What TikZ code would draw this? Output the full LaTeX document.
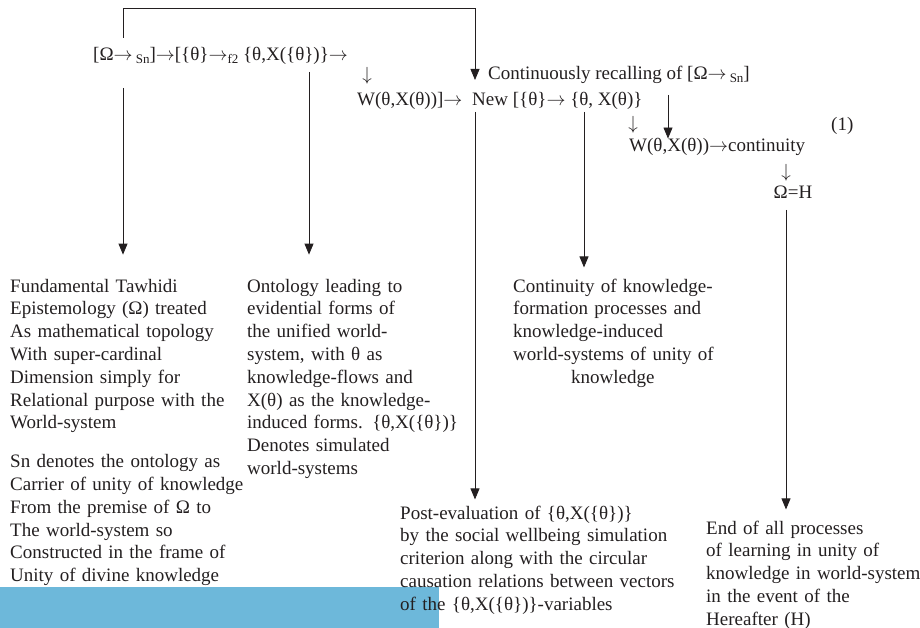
\RequirePackage{fix-cm}
\documentclass[tikz,border=0pt]{standalone}
\usepackage{fontspec}
\setmainfont{Liberation Serif}
\usetikzlibrary{arrows,arrows.meta,positioning}
\definecolor{ink}{RGB}{35,31,32}
\definecolor{band}{RGB}{109,184,218}
\newcommand{\lowsub}[1]{\raisebox{-3pt}{\fontsize{13}{13}\selectfont #1}}
\newcommand{\flowto}{\ensuremath{\rightarrow}}
\newcommand{\flowdown}{\ensuremath{\downarrow}}

\begin{document}
\begin{tikzpicture}[x=1pt,y=-1pt]
		\tikzstyle{formula}=[anchor=base west,inner sep=0pt,text=ink,font=\fontsize{19}{22.8}\selectfont]
		\tikzstyle{note}=[formula,align=left]
		\tikzstyle{downmark}=[inner sep=0pt,text=ink,font=\fontsize{19}{22.8}\selectfont]
		\tikzstyle{trigger}=[ink,line width=0.8pt,arrows={-Triangle[length=11pt,width=9pt]}]
		
		\useasboundingbox (0,0) rectangle (920,628);
		\fill[band] (0,587) rectangle (439,628);
		
		% formula chain
		\node[formula] (chain) at (93,61) {[Ω\flowto\,\lowsub{Sn}]\flowto[\{θ\}\flowto\lowsub{f2} \{θ,X(\{θ\})\}\flowto};
		\node[downmark] (down1) at (367,76) {\flowdown};
		\node[formula] (wlink) at (357,106) {W(θ,X(θ))]\flowto};
		\node[formula] (newrel) at (472,106) {New [\{θ\}\flowto\ \{θ, X(θ)\}};
		\node[formula] (recall) at (488,80) {Continuously recalling of [Ω\flowto\,\lowsub{Sn}]};
		\node[downmark] (down2) at (633,125) {\flowdown};
		\node[formula] (wcont) at (629,152) {W(θ,X(θ))\flowto continuity};
		\node[formula] (eqno) at (831,131) {(1)};
		\node[downmark] (down3) at (786,173) {\flowdown};
		\node[formula,anchor=base] (omegaH) at (793,199) {Ω=H};
		
		% explanations
		\node[note,text width=260pt] (tawhidi) at (10,292) {Fundamental Tawhidi\\ Epistemology (Ω) treated\\ As mathematical topology\\ With super-cardinal\\ Dimension simply for\\ Relational purpose with the\\ World-system\\[16pt] Sn denotes the ontology as\\ Carrier of unity of knowledge\\ From the premise of Ω to\\ The world-system so\\ Constructed in the frame of\\ Unity of divine knowledge};
		\node[note,text width=240pt] (ontology) at (247,292) {Ontology leading to\\ evidential forms of\\ the unified world-\\ system, with θ as\\ knowledge-flows and\\ X(θ) as the knowledge-\\ induced forms. \{θ,X(\{θ\})\}\\ Denotes simulated\\ world-systems};
		\node[note,text width=240pt] (continuity) at (513,292) {Continuity of knowledge-\\ formation processes and\\ knowledge-induced\\ world-systems of unity of\\ \hspace*{58pt}knowledge};
		\node[note,text width=300pt] (posteval) at (400,519) {Post-evaluation of \{θ,X(\{θ\})\}\\ by the social wellbeing simulation\\ criterion along with the circular\\ causation relations between vectors\\ of the \{θ,X(\{θ\})\}-variables};
		\node[note,text width=240pt] (hereafter) at (706,534) {End of all processes\\ of learning in unity of\\ knowledge in world-system\\ in the event of the\\ Hereafter (H)};
		
		% connectors
		\coordinate (lefttap) at (123,38);
		\coordinate (toprail) at (475,8);
		\coordinate (tap1) at (123,88);
		\coordinate (tap2) at (309,72);
		\coordinate (tap3) at (475,112);
		\coordinate (tap4) at (584,112);
		\coordinate (tap5) at (668,95);
		\coordinate (tap6) at (786,210);
		\draw[trigger] (lefttap) |- (toprail) -- (toprail |- recall.base);
		\draw[trigger,shorten >=24pt] (tap1) -- (tap1 |- tawhidi.north);
		\draw[trigger,shorten >=24pt] (tap2) -- (tap2 |- ontology.north);
		\draw[trigger,shorten >=6pt] (tap3) -- (tap3 |- posteval.north);
		\draw[trigger,shorten >=11pt] (tap4) -- (tap4 |- continuity.north);
		\draw[trigger] (tap5) -- (tap5 |- wcont.north);
		\draw[trigger,shorten >=11pt] (tap6) -- (tap6 |- hereafter.north);
		\end{tikzpicture}
\end{document}
